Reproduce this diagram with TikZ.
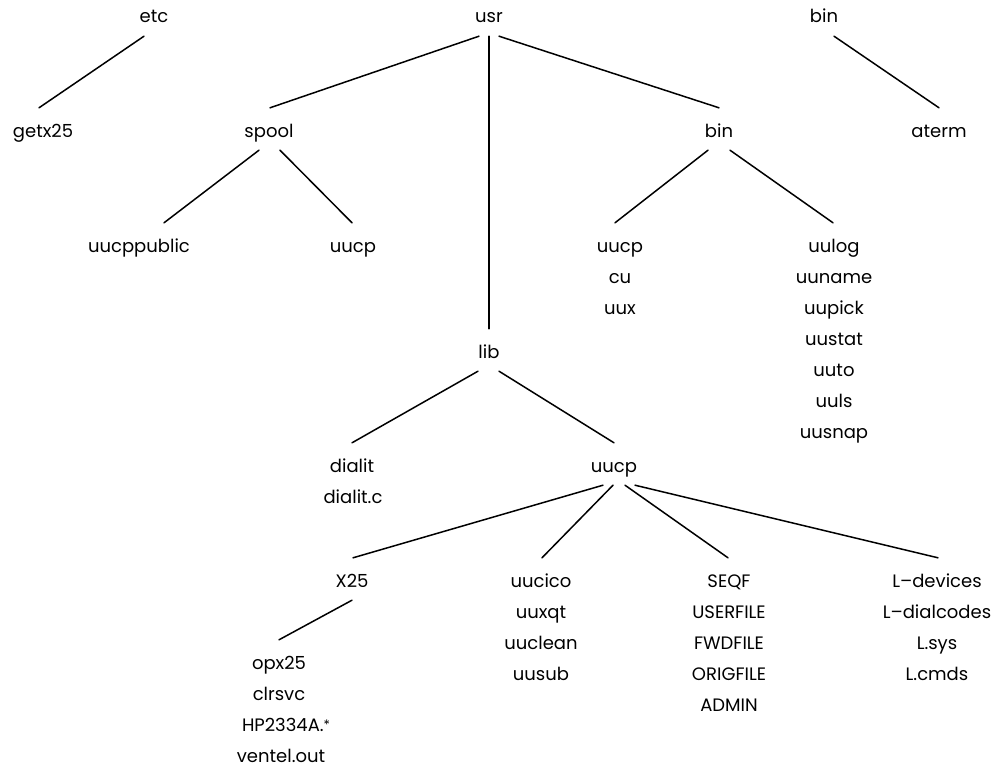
\documentclass[tikz,border=0pt]{standalone}
\usepackage{fontspec}
\setmainfont{Poppins}
\begin{document}
\begin{tikzpicture}[x=1pt,y=-1pt,
  lbl/.style={anchor=base,inner xsep=0pt,inner ysep=8pt,text height=21pt,text depth=5pt,
    font=\fontsize{18}{20}\selectfont},
  ln/.style={anchor=base,inner sep=0pt,font=\fontsize{18}{20}\selectfont},
  edge/.style={line width=1.5pt,line cap=round}]
\useasboundingbox (0,0) rectangle (1000,768);

% top level directories
\node[lbl] (etc)  at (154,23) {etc};
\node[lbl] (usr)  at (489,23) {usr};
\node[lbl] (bint) at (824,23) {bin};

% second level
\node[lbl] (getx)  at (43,137)  {getx25};
\node[lbl] (spool) at (269,137) {spool};
\node[lbl] (bin)   at (719,137) {bin};
\node[lbl] (aterm) at (939,137) {aterm};

% /usr/spool children
\node[lbl] (pub)  at (139,252) {uucppublic};
\node[lbl] (spuu) at (353,252) {uucp};

% /usr/bin files
\node[lbl] (buucp) at (620,252) {uucp};
\node[ln]  (cu)    at (620,283) {cu};
\node[ln]  (uux)   at (620,314) {uux};
\node[lbl] (uulog) at (834,252) {uulog};
\node[ln] (uuname) at (834,283) {uuname};
\node[ln] (uupick) at (834,314) {uupick};
\node[ln] (uustat) at (834,345) {uustat};
\node[ln] (uuto)   at (834,376) {uuto};
\node[ln] (uuls)   at (834,407) {uuls};
\node[ln] (uusnap) at (834,438) {uusnap};

% /usr/lib
\node[lbl] (lib)    at (489,358) {lib};
\node[lbl] (dialit) at (352,472) {dialit};
\node[ln]  (dialc)  at (353,503) {dialit.c};
\node[lbl] (luucp)  at (614,472) {uucp};

% /usr/lib/uucp contents
\node[lbl] (x25)    at (352,587) {X25};
\node[lbl] (uucico) at (541,587) {uucico};
\node[ln]  (uuxqt)  at (541,618) {uuxqt};
\node[ln]  (uuclean) at (541,649) {uuclean};
\node[ln]  (uusub)  at (541,680) {uusub};
\node[lbl] (seqf)   at (729,587) {SEQF};
\node[ln]  (userf)  at (729,618) {USERFILE};
\node[ln]  (fwdf)   at (729,649) {FWDFILE};
\node[ln]  (origf)  at (729,680) {ORIGFILE};
\node[ln]  (admin)  at (729,711) {ADMIN};
\node[lbl] (ldev)   at (937,587) {L\textendash devices};
\node[ln]  (ldial)  at (937,618) {L\textendash dialcodes};
\node[ln]  (lsys)   at (937,649) {L.sys};
\node[ln]  (lcmds)  at (937,680) {L.cmds};

% /usr/lib/uucp/X25
\node[lbl] (opx)    at (279,669) {opx25};
\node[ln]  (clr)    at (279,700) {clrsvc};
\node[ln]  (hp)     at (286,731) {HP2334A.{\fontsize{13}{13}\selectfont\raisebox{0.2ex}{*}}};
\node[ln]  (ventel) at (281,762) {ventel.out};

% tree edges
\draw[edge] ([xshift=-10pt]etc.south) -- ([xshift=-4pt]getx.north);
\draw[edge] ([xshift=-10pt]usr.south) -- ([xshift=1pt]spool.north);
\draw[edge] (usr.south) -- (lib.north);
\draw[edge] ([xshift=10pt]usr.south) -- (bin.north);
\draw[edge] ([xshift=10pt]bint.south) -- (aterm.north);

\draw[edge] ([xshift=-10pt]spool.south) -- ([xshift=25pt]pub.north);
\draw[edge] ([xshift=11pt]spool.south) -- ([xshift=-1pt]spuu.north);

\draw[edge] ([xshift=-11pt]bin.south) -- ([xshift=-5pt]buucp.north);
\draw[edge] ([xshift=11pt]bin.south) -- ([xshift=-1pt]uulog.north);

\draw[edge] ([xshift=-11pt]lib.south) -- (dialit.north);
\draw[edge] ([xshift=10pt]lib.south) -- (luucp.north);

\draw[edge] ([xshift=-11pt]luucp.south) -- ([xshift=1pt]x25.north);
\draw[edge] ([xshift=-1pt]luucp.south) -- ([xshift=1pt]uucico.north);
\draw[edge] ([xshift=11pt]luucp.south) -- ([xshift=-1pt]seqf.north);
\draw[edge] ([xshift=21pt]luucp.south) -- ([xshift=1pt]ldev.north);

\draw[edge] (x25.south) -- (opx.north);
\end{tikzpicture}
\end{document}
